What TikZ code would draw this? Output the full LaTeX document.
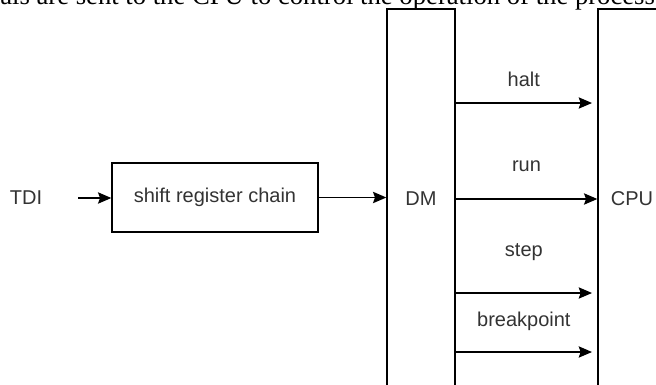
\documentclass[tikz,border=0pt]{standalone}
\usepackage{fontspec}
\setmainfont{Liberation Sans}
\newfontfamily\toptextfont{Liberation Serif}
\usetikzlibrary{arrows.meta}
\definecolor{txt}{HTML}{333333}
\tikzset{
  box/.style={draw=black, line width=1pt, fill=none, inner sep=0pt, text=txt, font=\fontsize{15}{18}\selectfont},
  lbl/.style={text=txt, font=\fontsize{15}{18}\selectfont, inner sep=0pt},
  sig/.style={lbl, anchor=base, midway},
  arr/.style={draw=black, line width=1pt, -{Stealth[length=10pt, width=8.5pt, inset=1.5pt]}},
}
\begin{document}
\begin{tikzpicture}[x=0.75pt, y=-0.75pt]
\useasboundingbox (0,0) rectangle (656,385);
\clip (0,0) rectangle (656,385);
% clipped caption line at the top
\node[anchor=base west, inner sep=0pt, font=\toptextfont\fontsize{20}{23}\selectfont, text=black] (cap) at (0,4.5) {als are sent to the CPU to control the operation of the process};
% nodes
\node[lbl, minimum width=78pt, align=center] (tdi) at (26,198) {TDI};
\node[box, minimum width=154.5pt, minimum height=51.75pt] (sr) at (215,197.5) {shift register chain};
\node[box, minimum width=51pt, minimum height=285pt] (dm) at (421,199) {DM};
\node[box, minimum width=51pt, minimum height=285pt] (cpu) at (632,199) {CPU};
% free arrow ends
\coordinate (hEnd) at (592,103);
\coordinate (sEnd) at (592,293);
\coordinate (bEnd) at (592,352);
% connectors
\draw[arr] (tdi.east) -- (sr.west |- tdi.east);
\draw[arr] (sr.east) -- (dm.west |- sr.east);
\draw[arr] (dm.east |- hEnd) -- (hEnd) node[sig, yshift=12.75pt] {halt};
\draw[arr] (dm.east) -- (cpu.west) node[sig, yshift=20.5pt] {run};
\draw[arr] (dm.east |- sEnd) -- (sEnd) node[sig, yshift=27.2pt] {step};
\draw[arr] (dm.east |- bEnd) -- (bEnd) node[sig, yshift=19.5pt] {breakpoint};
\end{tikzpicture}
\end{document}
